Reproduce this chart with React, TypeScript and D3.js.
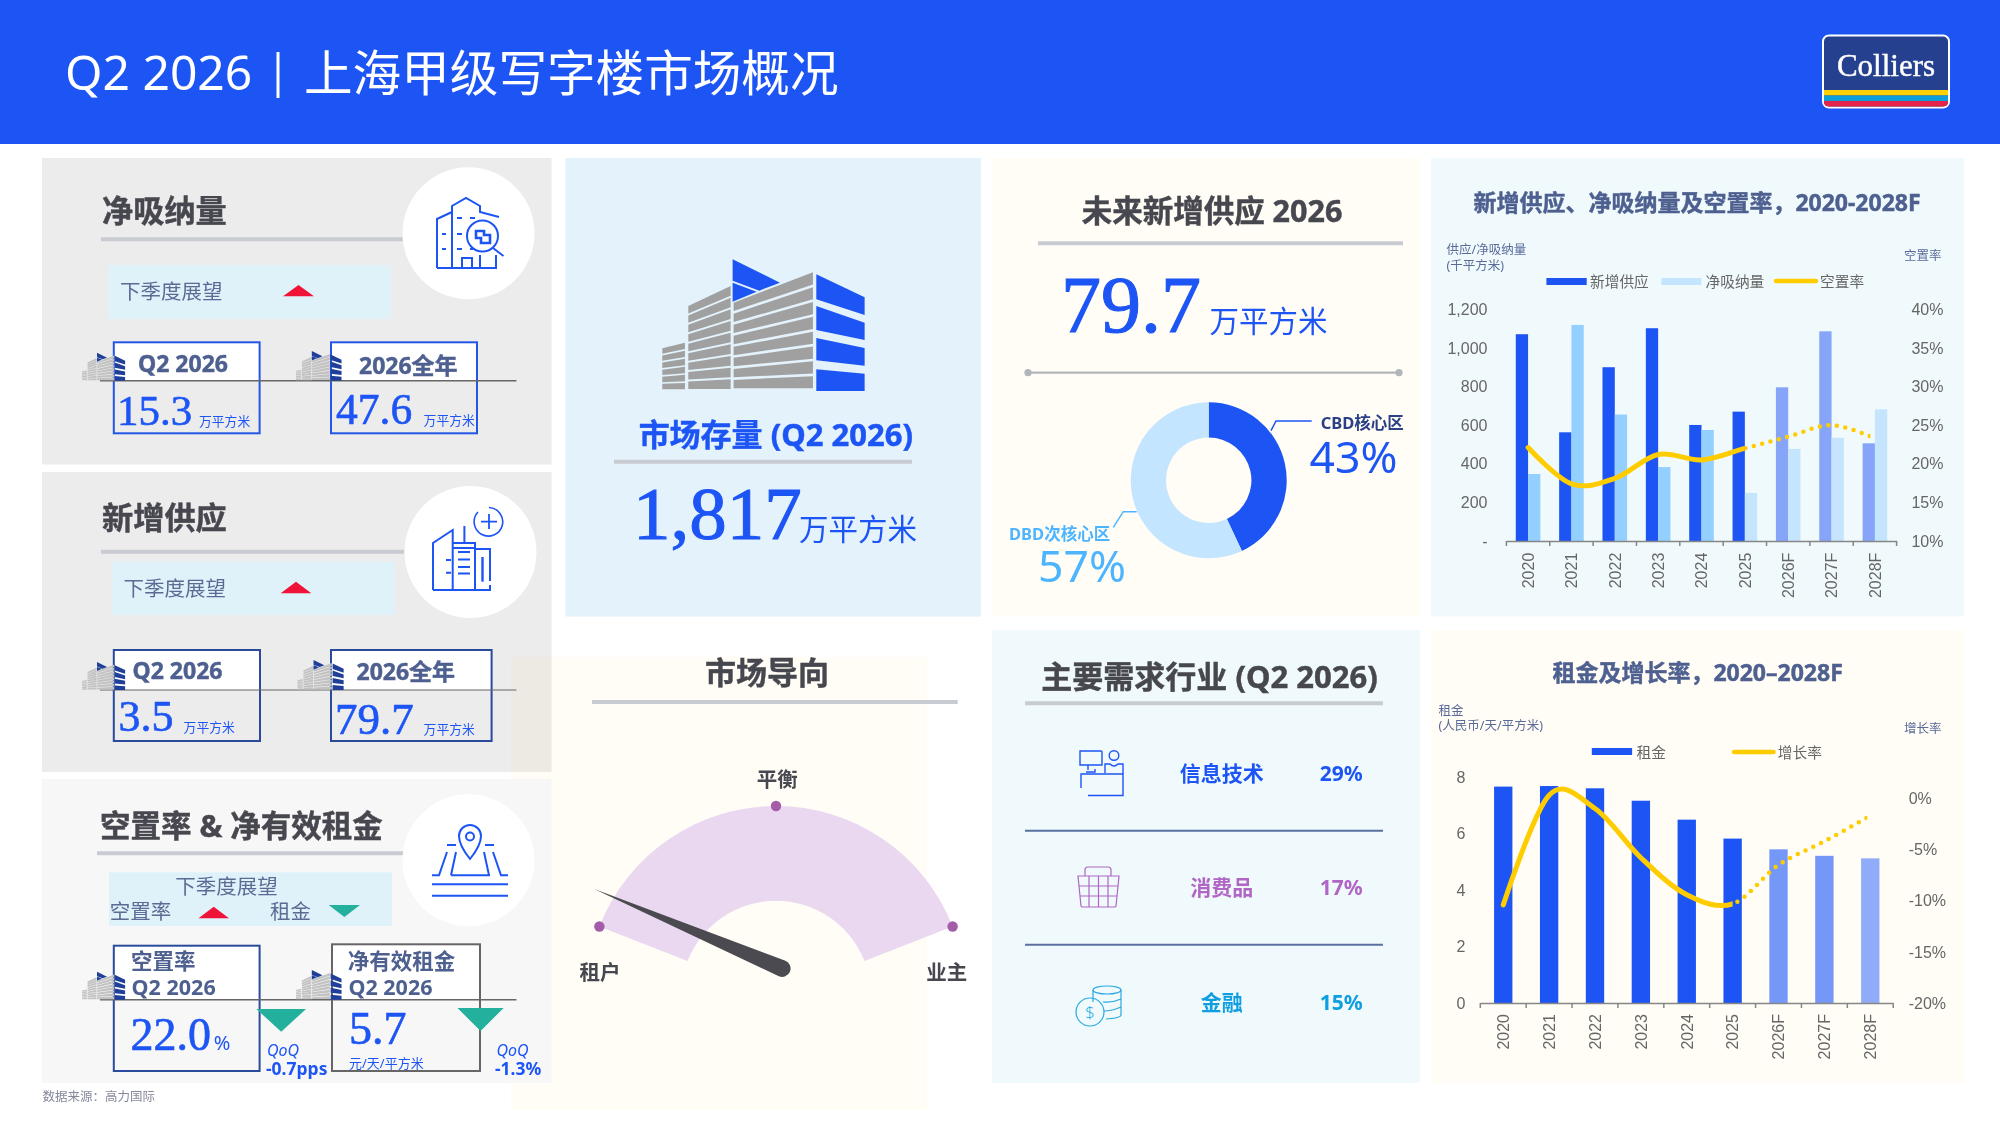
import React, { useEffect, useRef } from "react";
import * as d3 from "d3";

// ---- data ----
const years = ["2020", "2021", "2022", "2023", "2024", "2025", "2026F", "2027F", "2028F"];
const newSupply = [1071, 563, 900, 1102, 601, 670, 796, 1086, 506];
const netAbsorption = [347, 1119, 655, 383, 575, 249, 477, 535, 682];
const vacancyRate = [22.1, 17.4, 18.1, 21.2, 20.5, 22.0, 23.5, 25.0, 23.3];
const supplyTicks = [0, 200, 400, 600, 800, 1000, 1200];
const vacancyTicks = [10, 15, 20, 25, 30, 35, 40];

const rents = [7.66, 7.68, 7.6, 7.16, 6.49, 5.82, 5.44, 5.21, 5.12];
const rentGrowth = [-10.4, 0.3, -1.0, -5.8, -9.4, -10.3, -6.5, -4.2, -1.7];
const rentTicks = [0, 2, 4, 6, 8];
const growthTicks = [-20, -15, -10, -5, 0];

const futureSupplySplit = [43, 57];
const gaugeStops = [-1, 0, 1];
const gaugeLabels = ["租户", "平衡", "业主"];
const marketNeedle = -0.978;
const demandSectors = ["信息技术", "消费品", "金融"];
const demandShares = [29, 17, 15];

const SANS = '"Noto Sans", "Noto Sans CJK SC", sans-serif';
const CJK = '"Noto Sans CJK SC", "Noto Sans", sans-serif';
const SERIF = '"Liberation Serif", serif';
const ARIAL = '"Liberation Sans", "Noto Sans CJK SC", sans-serif';

const BLUE = "#1d55f5";
const INK = "#47474f";
const SLATE = "#4e6090";
const RULE = "#c9cbd2";
const YELLOW = "#ffcc00";
const RED = "#f01338";
const TEAL = "#23b09d";

type TxtProps = {
  x: number;
  y: number;
  size: number;
  fill?: string;
  weight?: number;
  anchor?: "start" | "middle" | "end";
  family?: string;
  center?: boolean;
  italic?: boolean;
  children: React.ReactNode;
};

const Txt = ({ x, y, size, fill = INK, weight = 400, anchor = "start", family = SANS, center = true, italic = false, children }: TxtProps) => {
  // the source type is heavier than the installed faces, so thicken it a little
  const thick = family === SERIF ? size * 0.014 : weight >= 700 && size >= 22 ? 0.45 : 0;
  return (
    <text
      x={x}
      y={center ? y - 1 : y}
      fontSize={size}
      fill={fill}
      stroke={thick ? fill : "none"}
      strokeWidth={thick}
      fontWeight={weight}
      textAnchor={anchor}
      fontFamily={family}
      fontStyle={italic ? "italic" : "normal"}
      dominantBaseline={center ? "central" : "auto"}
    >
      {children}
    </text>
  );
};

// striped block of the building mark, slanted at the top, flat at the foot
const stripes = (x0: number, x1: number, topLeft: number, topRight: number, n: number, gap: number) =>
  d3.range(n).map((i) => {
    const pl = (395 - topLeft) / n;
    const pr = (395 - topRight) / n;
    const l = topLeft + i * pl;
    const r = topRight + i * pr;
    return `${x0},${l} ${x1},${r} ${x1},${r + pr - gap} ${x0},${l + pl - gap}`;
  });

const blueShapes = [
  "211,0 353,70 291,94 211,64",
  "211,70 283,97 211,127",
  "462,45 607,114 607,167 462,120",
  "462,140 607,190 607,242 462,212",
  "462,236 607,266 607,319 462,303",
  "462,330 607,343 607,395 462,395",
];
const grayShapes = [
  ...stripes(214, 452, 130, 39, 8, 8),
  ...stripes(78, 205, 140, 80, 9, 6),
  ...stripes(0, 68, 267, 250, 6, 5),
];

const Building = ({ x, y, k, gray, blue }: { x: number; y: number; k: number; gray: string; blue: string }) => (
  <g transform={`translate(${x},${y}) scale(${k})`}>
    {grayShapes.map((p, i) => <polygon key={i} points={p} fill={gray} />)}
    {blueShapes.map((p, i) => <polygon key={i} points={p} fill={blue} />)}
  </g>
);

const Triangle = ({ x0, x1, y0, y1, up, fill }: { x0: number; x1: number; y0: number; y1: number; up: boolean; fill: string }) => (
  <polygon
    points={up ? `${x0},${y1} ${x1},${y1} ${(x0 + x1) / 2},${y0}` : `${x0},${y0} ${x1},${y0} ${(x0 + x1) / 2},${y1}`}
    fill={fill}
  />
);

const Rule = ({ x0, x1, y }: { x0: number; x1: number; y: number }) => (
  <line x1={x0} x2={x1} y1={y} y2={y} stroke={RULE} strokeWidth={4} />
);

const StatBox = ({ x0, x1, y0, y1, mid, stroke }: { x0: number; x1: number; y0: number; y1: number; mid: number; stroke: string }) => (
  <g>
    <rect x={x0} y={y0} width={x1 - x0} height={mid - y0} fill="#fff" />
    <rect x={x0} y={y0} width={x1 - x0} height={y1 - y0} fill="none" stroke={stroke} strokeWidth={2} />
  </g>
);

const Mini = ({ x, bottom, k = 0.071 }: { x: number; bottom: number; k?: number }) => (
  <Building x={x} y={bottom - 395 * k} k={k} gray="#c2c2c2" blue="#1f3f99" />
);

// ---- combo charts, drawn with d3 through a ref ----
type ComboSpec = {
  x0: number;
  x1: number;
  base: number;
  top: number;
  growthBase: number;
  growthTop: number;
  leftDomain: [number, number];
  rightDomain: [number, number];
  leftTicks: number[];
  rightTicks: number[];
  leftX: number;
  rightX: number;
  labelGap: number;
  tickFmt: (d: number) => string;
  line: number[];
  endInset: number;
  id: string;
};

function drawCombo(node: SVGGElement, spec: ComboSpec, bars: (g: d3.Selection<SVGGElement, unknown, null, undefined>, x: d3.ScaleBand<string>, y: d3.ScaleLinear<number, number>) => void, paddingInner: number, paddingOuter: number) {
  const root = d3.select(node);
  root.selectAll("*").remove();

  const x = d3.scaleBand<string>().domain(years).range([spec.x0, spec.x1]).paddingInner(paddingInner).paddingOuter(paddingOuter);
  const y = d3.scaleLinear().domain(spec.leftDomain).range([spec.base, spec.top]);
  const yRight = d3.scaleLinear().domain(spec.rightDomain).range([spec.growthBase, spec.growthTop]);
  const cx = (i: number) => x(years[i])! + x.bandwidth() / 2;

  bars(root.append("g"), x, y);

  // x axis
  const axisX = root
    .append("g")
    .attr("transform", `translate(0,${spec.base})`)
    .call(d3.axisBottom(x).tickSize(0).tickPadding(0));
  axisX.select(".domain").attr("stroke", "#868686").attr("stroke-width", 1.5);
  axisX
    .selectAll("text")
    .attr("transform", "rotate(-90)")
    .attr("text-anchor", "end")
    .attr("x", -spec.labelGap)
    .attr("y", 0)
    .attr("dy", "0.36em")
    .attr("font-size", 16)
    .attr("font-family", ARIAL)
    .attr("fill", "#666");
  const step = x.step();
  const firstEdge = x(years[0])! - (step - x.bandwidth()) / 2;
  axisX
    .selectAll("line.edge")
    .data(d3.range(years.length + 1))
    .enter()
    .append("line")
    .attr("x1", (d) => firstEdge + d * step)
    .attr("x2", (d) => firstEdge + d * step)
    .attr("y1", 0)
    .attr("y2", 5)
    .attr("stroke", "#868686")
    .attr("stroke-width", 1.5);

  // y axes
  const axisL = root
    .append("g")
    .attr("transform", `translate(${spec.leftX},0)`)
    .call(d3.axisLeft(y).tickValues(spec.leftTicks).tickSize(0).tickPadding(0).tickFormat((d) => spec.tickFmt(d as number)));
  const axisR = root
    .append("g")
    .attr("transform", `translate(${spec.rightX},0)`)
    .call(d3.axisRight(yRight).tickValues(spec.rightTicks).tickSize(0).tickPadding(0).tickFormat((d) => `${d}%`));
  [axisL, axisR].forEach((a) => {
    a.select(".domain").remove();
    a.selectAll("text").attr("font-size", 16).attr("font-family", ARIAL).attr("fill", "#666");
  });

  // one curve, solid for actuals and dotted for the forecast years
  const curve = d3
    .line<number>()
    .x((_, i) => cx(i))
    .y((d) => yRight(d))
    .curve(d3.curveCatmullRom.alpha(0));
  const join = cx(5);
  const end = cx(years.length - 1) - spec.endInset;
  const defs = root.append("defs");
  defs.append("clipPath").attr("id", `${spec.id}-a`).append("rect").attr("x", spec.x0 - 20).attr("y", 0).attr("width", join - spec.x0 + 20).attr("height", 1125);
  defs.append("clipPath").attr("id", `${spec.id}-f`).append("rect").attr("x", join).attr("y", 0).attr("width", end - join + 2).attr("height", 1125);
  root
    .append("path")
    .datum(spec.line)
    .attr("fill", "none")
    .attr("stroke", YELLOW)
    .attr("stroke-width", 5)
    .attr("stroke-linecap", "round")
    .attr("clip-path", `url(#${spec.id}-a)`)
    .attr("d", curve);
  root
    .append("path")
    .datum(spec.line)
    .attr("fill", "none")
    .attr("stroke", YELLOW)
    .attr("stroke-width", 4.5)
    .attr("stroke-linecap", "round")
    .attr("stroke-dasharray", "0 8.6")
    .attr("clip-path", `url(#${spec.id}-f)`)
    .attr("d", curve);
}

const SupplyChart = () => {
  const ref = useRef<SVGGElement | null>(null);
  useEffect(() => {
    if (!ref.current) return;
    drawCombo(
      ref.current,
      {
        x0: 1506.4,
        x1: 1896.6,
        base: 541,
        top: 309.3,
        growthBase: 541,
        growthTop: 309.3,
        leftDomain: [0, 1200],
        rightDomain: [10, 40],
        leftTicks: supplyTicks,
        rightTicks: vacancyTicks,
        leftX: 1487.5,
        rightX: 1911.4,
        labelGap: 11.7,
        tickFmt: (d) => (d === 0 ? "-" : d3.format(",")(d)),
        line: vacancyRate,
        endInset: 6.5,
        id: "vac",
      },
      (g, x, y) => {
        const sub = d3.scaleBand<string>().domain(["supply", "absorption"]).range([0, x.bandwidth()]).paddingInner(0).paddingOuter(0.7625);
        g.selectAll("rect.s")
          .data(newSupply)
          .enter()
          .append("rect")
          .attr("x", (_, i) => x(years[i])! + sub("supply")!)
          .attr("width", sub.bandwidth())
          .attr("y", (d) => y(d))
          .attr("height", (d) => y(0) - y(d))
          .attr("fill", (_, i) => (i > 5 ? "#86a5f8" : BLUE));
        g.selectAll("rect.a")
          .data(netAbsorption)
          .enter()
          .append("rect")
          .attr("x", (_, i) => x(years[i])! + sub("absorption")!)
          .attr("width", sub.bandwidth())
          .attr("y", (d) => y(d))
          .attr("height", (d) => y(0) - y(d))
          .attr("fill", (_, i) => (i > 4 ? "#c5e5ff" : "#94d0ff"));
      },
      0,
      0
    );
  }, []);
  return <g ref={ref} />;
};

const RentChart = () => {
  const ref = useRef<SVGGElement | null>(null);
  useEffect(() => {
    if (!ref.current) return;
    drawCombo(
      ref.current,
      {
        x0: 1480.3,
        x1: 1893.2,
        base: 1003,
        top: 777,
        growthBase: 1003.3,
        growthTop: 798.3,
        leftDomain: [0, 8],
        rightDomain: [-20, 0],
        leftTicks: rentTicks,
        rightTicks: growthTicks,
        leftX: 1465.5,
        rightX: 1908.7,
        labelGap: 11,
        tickFmt: (d) => String(d),
        line: rentGrowth,
        endInset: 5,
        id: "gro",
      },
      (g, x, y) => {
        g.selectAll("rect")
          .data(rents)
          .enter()
          .append("rect")
          .attr("x", (_, i) => x(years[i])!)
          .attr("width", x.bandwidth())
          .attr("y", (d) => y(d))
          .attr("height", (d) => y(0) - y(d))
          .attr("fill", (_, i) => (i === 8 ? "#90acf8" : i > 5 ? "#7598f8" : BLUE));
      },
      0.6,
      0.3
    );
  }, []);
  return <g ref={ref} />;
};

// ---- donut and gauge ----
const Donut = () => {
  const slices = d3.pie<number>().sort(null)(futureSupplySplit);
  const arc = d3.arc<d3.PieArcDatum<number>>().innerRadius(42.7).outerRadius(78);
  const fills = [BLUE, "#c4e5ff"];
  return (
    <g transform="translate(1208.7,480.3)">
      {slices.map((s, i) => <path key={i} d={arc(s) as string} fill={fills[i]} />)}
    </g>
  );
};

const Gauge = () => {
  const cx = 776;
  const cy = 995.7;
  const R = 189.7;
  const angle = d3.scaleLinear().domain([-1, 1]).range([(-68.6 * Math.PI) / 180, (68.6 * Math.PI) / 180]);
  const band = d3.arc()({ innerRadius: 95, outerRadius: R, startAngle: angle(-1), endAngle: angle(1) }) as string;
  const needleDeg = (angle(marketNeedle) * 180) / Math.PI;
  return (
    <g>
      <path d={band} transform={`translate(${cx},${cy})`} fill="#e9d8ef" />
      {gaugeStops.map((s) => (
        <circle key={s} cx={cx + R * Math.sin(angle(s))} cy={cy - R * Math.cos(angle(s))} r={5.2} fill="#a45ca8" />
      ))}
      <Txt x={777.3} y={780} size={20.5} weight={700} anchor="middle">{gaugeLabels[1]}</Txt>
      <Txt x={600} y={973} size={20.5} weight={700} anchor="middle">{gaugeLabels[0]}</Txt>
      <Txt x={946.7} y={973} size={20.5} weight={700} anchor="middle">{gaugeLabels[2]}</Txt>
      <path
        transform={`translate(784,969.3) rotate(${needleDeg})`}
        d="M0,-206 L8.4,-2 A8.4,8.4 0 0 1 -8.4,-2 Z"
        fill="#4a4a50"
      />
    </g>
  );
};

// ---- small line icons ----
const line = { fill: "none", stroke: BLUE, strokeWidth: 2 };

const IconSearch = () => (
  <g {...line}>
    <path d="M437,268 V219 L452,212 M452,268 V206 L466,198 L480,206 V212 L499,217 M496,255 V268 H437 M462,268 V258 H472 V268 M480,255 V268" />
    <path d="M442,234 h4 M442,249 h4 M457,218 h5 M470,218 h5 M457,234 h5 M457,249 h5 M470,249 h4" />
    <circle cx={482.5} cy={236} r={15.5} />
    <path d="M493,248 L503.5,256" />
    <path d="M476,231 h8 v4 h6 v8 h-9 v-5 h-5 Z" strokeWidth={2.6} />
  </g>
);

const IconPlus = () => (
  <g {...line}>
    <path d="M433,590 V543 L452.7,530 V590 M433,590 H490 V585 M452.7,543 H475 V590 M464.4,526 V543 M452.7,548 H475 M475,549 H490 V581" />
    <path d="M458,552 h12 M458,559.5 h12 M458,567 h12 M458,573.5 h12 M446,560 h5 M446,572.7 h5" />
    <path d="M482.5,557 V581.7" strokeWidth={2.4} />
    <path d="M489,507.5 A14.3,14.3 0 1 1 478,512" strokeWidth={1.6} />
    <path d="M489,514 V529 M481,521.7 H497" strokeWidth={1.8} />
  </g>
);

const IconPin = () => (
  <g {...line}>
    <path d="M470,859 C462,849 459,843 459,836 A11,11 0 0 1 481,836 C481,843 478,849 470,859 Z" />
    <circle cx={470} cy={836.5} r={4} />
    <path d="M447,845 h9 M485,845 h9" />
    <path d="M432,875.3 H439 L447,852 M451,875.3 L456,852 M451,875.3 H489 L484,852 M508,875.3 H501 L493,852" />
    <path d="M432,884.3 H508 M432,895.7 H508" />
  </g>
);

const IconDesk = () => (
  <g fill="none" stroke={BLUE} strokeWidth={1.4} transform="translate(990,630)">
    <path d="M91,121 H111 Q112,121 112,122 V135 H90 V121 Z M90,135 H112 M98,135 V140 M96,142 H105 V139" />
    <circle cx={124} cy={125.5} r={4.8} />
    <path d="M115,143 V134 H120 Q124,138 128,134 H133 V144" />
    <path d="M91,158 V144 H133 V165.5 H98" />
  </g>
);

const IconBasket = () => (
  <g fill="none" stroke="#b066c4" strokeWidth={1.2} transform="translate(990,630)">
    <path d="M88,246 H129 L126,276 Q126,277 124,277 H93 Q91,277 91,276 Z" />
    <path d="M95,246 V240 Q95,237 98,237 H118 Q121,237 121,240 V246" />
    <path d="M99,246 V277 M108.5,246 V277 M118,246 V277 M89,256 H128 M90,266 H127" />
  </g>
);

const IconCoins = () => (
  <g fill="none" stroke="#29a9e0" strokeWidth={1.2} transform="translate(990,630)">
    <ellipse cx={117} cy={360} rx={14} ry={4} />
    <path d="M103,360 V372 M131,360 V385 Q131,388 116,389 M113,372 Q122,373 131,369 M114,381 Q122,381 131,377" />
    <circle cx={100} cy={382} r={14} />
    <text x={100} y={388} textAnchor="middle" fontSize={17} fontFamily={SANS} fontWeight={300} fill="#29a9e0" stroke="none">$</text>
  </g>
);

const UNIT = "万平方米";
const OUTLOOK = "下季度展望";

export default function App() {
  return (
    <svg
      width={2000}
      height={1125}
      viewBox="0 0 2000 1125"
      lang="zh-CN"
      style={{ position: "absolute", left: 0, top: 0, display: "block", background: "#fff" }}
    >
      {/* header */}
      <rect x={0} y={0} width={2000} height={144} fill={BLUE} />
      <Txt x={65} y={72} size={48} fill="#fff">Q2 2026</Txt>
      <rect x={276.5} y={52} width={3} height={46} fill="#fff" />
      <Txt x={304} y={71} size={48.6} fill="#fff" family={CJK}>上海甲级写字楼市场概况</Txt>
      <g>
        <rect x={1823} y={35.5} width={126} height={72} rx={6} fill="#25408f" stroke="#fff" strokeWidth={2} />
        <rect x={1824} y={90} width={124} height={5.5} fill="#ffd100" />
        <rect x={1824} y={95.5} width={124} height={5.5} fill="#0c9ed9" />
        <path d="M1824,101 H1948 V102 Q1948,106.5 1943,106.5 H1829 Q1824,106.5 1824,102 Z" fill="#e4234b" />
        <Txt x={1886} y={76} size={31} fill="#fff" family={SERIF} anchor="middle" center={false}>Colliers</Txt>
      </g>

      {/* left column backgrounds */}
      <rect x={42} y={158} width={509.5} height={306.5} fill="#ececec" />
      <rect x={42} y={472} width={509.5} height={300} fill="#ececec" />
      <rect x={511} y={657} width={416} height={453} fill="#fffdf6" style={{ mixBlendMode: "multiply" }} />
      <rect x={42} y={779} width={509.5} height={304} fill="#f7f7f7" />

      {/* other panels */}
      <rect x={565.5} y={158} width={415.5} height={458.5} fill="#e3f2fb" />
      <rect x={992} y={158} width={428} height={458.5} fill="#fffdf6" />
      <rect x={1431} y={158} width={533} height={458.5} fill="#f0fafd" />
      <rect x={992} y={630} width={428} height={453} fill="#f0fafd" />
      <rect x={1431} y={630} width={533} height={453} fill="#fffdf6" />

      {/* net absorption */}
      <Txt x={102} y={211} size={31.2} weight={700}>净吸纳量</Txt>
      <Rule x0={101} x1={403} y={239.3} />
      <circle cx={468.5} cy={233.3} r={66} fill="#fff" />
      <IconSearch />
      <rect x={108.4} y={265} width={282.6} height={54} fill="#dff2fa" />
      <Txt x={120} y={292} size={20.5} fill="#5a6b94">{OUTLOOK}</Txt>
      <Triangle x0={283} x1={314} y0={285} y1={296.3} up fill={RED} />
      <StatBox x0={113.8} x1={259.6} y0={342.3} y1={433.3} mid={380.7} stroke="#2456e6" />
      <StatBox x0={331} x1={477} y0={342.3} y1={433.3} mid={380.7} stroke="#2456e6" />
      <line x1={100} x2={516.4} y1={380.7} y2={380.7} stroke="#666" strokeWidth={1.6} />
      <Mini x={82} bottom={380.7} />
      <Mini x={296} bottom={380.7} k={0.075} />
      <Txt x={138} y={364.3} size={23} weight={700} fill={SLATE}>Q2 2026</Txt>
      <Txt x={359} y={366} size={23} weight={700} fill={SLATE}>2026全年</Txt>
      <Txt x={117} y={425} size={43} fill={BLUE} family={SERIF} center={false}>15.3</Txt>
      <Txt x={199} y={426} size={12.8} fill={BLUE} center={false}>{UNIT}</Txt>
      <Txt x={336} y={424} size={43.5} fill={BLUE} family={SERIF} center={false}>47.6</Txt>
      <Txt x={423.6} y={425} size={12.8} fill={BLUE} center={false}>{UNIT}</Txt>

      {/* new supply */}
      <Txt x={102} y={518.3} size={31.2} weight={700}>新增供应</Txt>
      <Rule x0={101} x1={404} y={551.7} />
      <circle cx={470.5} cy={552} r={66} fill="#fff" />
      <IconPlus />
      <rect x={112} y={561.7} width={282.5} height={53.3} fill="#dff2fa" />
      <Txt x={123.6} y={589} size={20.5} fill="#5a6b94">{OUTLOOK}</Txt>
      <Triangle x0={280.7} x1={311.3} y0={581.7} y1={593.3} up fill={RED} />
      <StatBox x0={113.8} x1={260} y0={650} y1={741} mid={690} stroke="#2a4a9c" />
      <StatBox x0={331} x1={491.6} y0={650} y1={741} mid={690} stroke="#2a4a9c" />
      <line x1={100} x2={516.4} y1={690} y2={690} stroke="#666" strokeWidth={1.2} />
      <Mini x={82} bottom={690} />
      <Mini x={297.5} bottom={690} k={0.076} />
      <Txt x={132.5} y={671.3} size={23} weight={700} fill={SLATE}>Q2 2026</Txt>
      <Txt x={356.5} y={672.3} size={23} weight={700} fill={SLATE}>2026全年</Txt>
      <Txt x={118.5} y={730.7} size={44} fill={BLUE} family={SERIF} center={false}>3.5</Txt>
      <Txt x={183.6} y={731.7} size={12.8} fill={BLUE} center={false}>{UNIT}</Txt>
      <Txt x={335} y={734} size={45} fill={BLUE} family={SERIF} center={false}>79.7</Txt>
      <Txt x={423.6} y={734.3} size={12.8} fill={BLUE} center={false}>{UNIT}</Txt>

      {/* vacancy and rent */}
      <Txt x={100} y={826} size={30.5} weight={700}>空置率 &amp; 净有效租金</Txt>
      <Rule x0={97} x1={403} y={853.3} />
      <circle cx={468.5} cy={860.3} r={66} fill="#fff" />
      <IconPin />
      <rect x={109} y={872.3} width={283} height={53.7} fill="#dff2fa" />
      <Txt x={175.3} y={887.3} size={20.5} fill="#5a6b94">{OUTLOOK}</Txt>
      <Txt x={109.8} y={911.7} size={20.5} fill="#5a6b94">空置率</Txt>
      <Triangle x0={198.5} x1={229} y0={906.7} y1={918.3} up fill={RED} />
      <Txt x={270} y={911.7} size={20.5} fill="#5a6b94">租金</Txt>
      <Triangle x0={328.7} x1={360} y0={905} y1={917} up={false} fill={TEAL} />
      <StatBox x0={113.8} x1={259.6} y0={945.7} y1={1071} mid={999.7} stroke="#2a4a9c" />
      <StatBox x0={332} x1={480} y0={944.3} y1={1071} mid={999.7} stroke="#666" />
      <line x1={100} x2={516.4} y1={999.7} y2={999.7} stroke="#666" strokeWidth={1.4} />
      <Mini x={82} bottom={999.7} />
      <Mini x={296} bottom={999.7} k={0.075} />
      <Txt x={131} y={961} size={21.5} weight={700} fill={SLATE}>空置率</Txt>
      <Txt x={131.6} y={987.7} size={21.5} weight={700} fill={SLATE}>Q2 2026</Txt>
      <Txt x={347.8} y={961} size={21.5} weight={700} fill={SLATE}>净有效租金</Txt>
      <Txt x={348.4} y={987.7} size={21.5} weight={700} fill={SLATE}>Q2 2026</Txt>
      <Txt x={130.5} y={1050} size={46} fill={BLUE} family={SERIF} center={false}>22.0</Txt>
      <Txt x={213.8} y={1050} size={20} fill={BLUE} center={false}>%</Txt>
      <Txt x={349} y={1044} size={46} fill={BLUE} family={SERIF} center={false}>5.7</Txt>
      <Txt x={349} y={1067.7} size={13} fill={BLUE} center={false}>元/天/平方米</Txt>
      <Triangle x0={256.4} x1={306} y0={1009} y1={1031.7} up={false} fill={TEAL} />
      <Triangle x0={457.5} x1={503.6} y0={1008} y1={1031} up={false} fill={TEAL} />
      <Txt x={267} y={1050.7} size={16} fill={BLUE} italic>QoQ</Txt>
      <Txt x={266} y={1069} size={17.5} weight={700} fill={BLUE}>-0.7pps</Txt>
      <Txt x={496.4} y={1050.7} size={16} fill={BLUE} italic>QoQ</Txt>
      <Txt x={495} y={1069} size={17.5} weight={700} fill={BLUE}>-1.3%</Txt>
      <Txt x={42.5} y={1097.7} size={12.5} fill="#85889a">数据来源：高力国际</Txt>

      {/* market stock */}
      <Building x={662.3} y={259.3} k={1 / 3} gray="#a0a0a0" blue={BLUE} />
      <Txt x={775.8} y={435} size={31} weight={700} fill={BLUE} anchor="middle">市场存量 (Q2 2026)</Txt>
      <Rule x0={614} x1={912} y={461.7} />
      <Txt x={633} y={539} size={75} fill={BLUE} family={SERIF} center={false}>1,817</Txt>
      <Txt x={799} y={540} size={29.5} fill={BLUE} center={false}>{UNIT}</Txt>

      {/* future supply */}
      <Txt x={1212} y={210.7} size={30.5} weight={700} anchor="middle">未来新增供应 2026</Txt>
      <Rule x0={1038} x1={1403} y={243.3} />
      <Txt x={1061} y={331.7} size={80} fill={BLUE} family={SERIF} center={false}>79.7</Txt>
      <Txt x={1209.5} y={332} size={29.5} fill={BLUE} center={false}>{UNIT}</Txt>
      <line x1={1028} x2={1399} y1={372.7} y2={372.7} stroke="#b2b6bb" strokeWidth={2.2} />
      <circle cx={1028} cy={372.7} r={3.6} fill="#b2b6bb" />
      <circle cx={1399} cy={372.7} r={3.6} fill="#b2b6bb" />
      <Donut />
      <path d="M1271,430.7 L1276,421 H1311.7" fill="none" stroke={BLUE} strokeWidth={1.5} />
      <Txt x={1320.7} y={423} size={16.5} weight={700} fill="#2a3f85">CBD核心区</Txt>
      <Txt x={1309.5} y={473} size={44.5} fill={BLUE} center={false}>{`${futureSupplySplit[0]}%`}</Txt>
      <path d="M1113.3,527.3 L1123.3,511.7 H1136.7" fill="none" stroke="#4db5ff" strokeWidth={1.5} />
      <Txt x={1009} y={534} size={16.5} weight={700} fill="#4db5ff">DBD次核心区</Txt>
      <Txt x={1038} y={582} size={44.5} fill="#4db5ff" center={false}>{`${futureSupplySplit[1]}%`}</Txt>

      {/* market direction */}
      <Txt x={767} y={672.7} size={31} weight={700} anchor="middle">市场导向</Txt>
      <Rule x0={592} x1={957.7} y={702} />
      <Gauge />

      {/* demand sectors */}
      <Txt x={1209.5} y={676.7} size={31} weight={700} anchor="middle">主要需求行业 (Q2 2026)</Txt>
      <Rule x0={1025} x1={1383} y={703.3} />
      <line x1={1025} x2={1383} y1={830.7} y2={830.7} stroke="#5a70a0" strokeWidth={2} />
      <line x1={1025} x2={1383} y1={944.7} y2={944.7} stroke="#5a70a0" strokeWidth={2} />
      <IconDesk />
      <IconBasket />
      <IconCoins />
      {demandSectors.map((s, i) => {
        const c = [BLUE, "#b066c4", "#0f9ee0"][i];
        const yy = [774, 888, 1002.7][i];
        return (
          <g key={s}>
            <Txt x={1221.7} y={yy} size={21} weight={700} fill={c} anchor="middle">{s}</Txt>
            <Txt x={1362.8} y={yy} size={21} weight={700} fill={c} anchor="end">{`${demandShares[i]}%`}</Txt>
          </g>
        );
      })}

      {/* supply, absorption and vacancy chart */}
      <Txt x={1697} y={203} size={23} weight={700} fill={SLATE} anchor="middle">新增供应、净吸纳量及空置率，2020-2028F</Txt>
      <Txt x={1446.5} y={250.7} size={12.5} fill="#5a6b9a">供应/净吸纳量</Txt>
      <Txt x={1446.5} y={266} size={12.5} fill="#5a6b9a">(千平方米)</Txt>
      <Txt x={1904} y={256.7} size={12.5} fill="#5a6b9a">空置率</Txt>
      <rect x={1546.4} y={278} width={40.3} height={7} fill={BLUE} />
      <Txt x={1590} y={282} size={14.7} fill="#666">新增供应</Txt>
      <rect x={1661.4} y={278} width={40} height={7} fill="#c5e5ff" />
      <Txt x={1705.5} y={282} size={14.7} fill="#666">净吸纳量</Txt>
      <line x1={1776} x2={1816} y1={281} y2={281} stroke={YELLOW} strokeWidth={4.5} strokeLinecap="round" />
      <Txt x={1820} y={282} size={14.7} fill="#666">空置率</Txt>
      <SupplyChart />

      {/* rent chart */}
      <Txt x={1697.6} y={673} size={23} weight={700} fill={SLATE} anchor="middle">租金及增长率，2020–2028F</Txt>
      <Txt x={1438.6} y={711} size={12.5} fill="#5a6b9a">租金</Txt>
      <Txt x={1438.6} y={726} size={12.5} fill="#5a6b9a">(人民币/天/平方米)</Txt>
      <Txt x={1904} y={729} size={12.5} fill="#5a6b9a">增长率</Txt>
      <rect x={1591.8} y={748} width={40.3} height={7} fill={BLUE} />
      <Txt x={1636.6} y={753} size={14.7} fill="#666">租金</Txt>
      <line x1={1734} x2={1773.5} y1={752} y2={752} stroke={YELLOW} strokeWidth={4.5} strokeLinecap="round" />
      <Txt x={1777.8} y={753} size={14.7} fill="#666">增长率</Txt>
      <RentChart />
    </svg>
  );
}
